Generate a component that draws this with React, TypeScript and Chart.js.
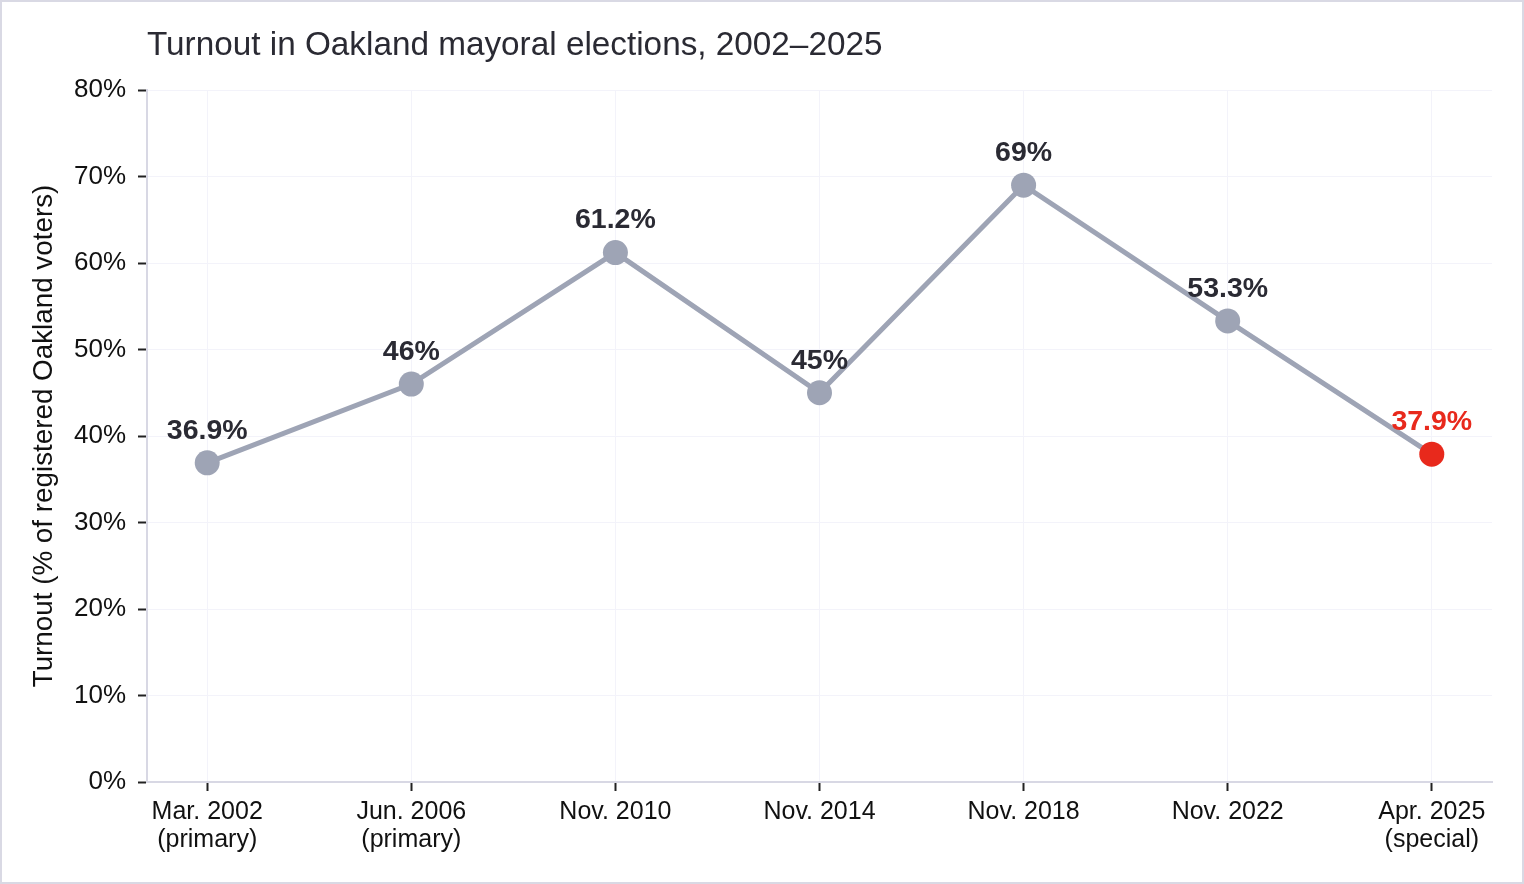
import { useEffect, useRef } from "react";
import { Chart, registerables } from "chart.js";

Chart.register(...registerables);

// Dữ liệu biểu đồ
const elections = [
  ["Mar. 2002", "(primary)"],
  ["Jun. 2006", "(primary)"],
  ["Nov. 2010"],
  ["Nov. 2014"],
  ["Nov. 2018"],
  ["Nov. 2022"],
  ["Apr. 2025", "(special)"],
];
const turnout = [36.9, 46, 61.2, 45, 69, 53.3, 37.9];
const yTicks = [0, 10, 20, 30, 40, 50, 60, 70, 80];

const TITLE = "Turnout in Oakland mayoral elections, 2002–2025";
const Y_TITLE = "Turnout (% of registered Oakland voters)";
const FONT = "'Liberation Sans', Arial, sans-serif";
const LINE_COLOR = "#9ea4b5";
const RED = "#e8291c";
const TEXT = "#2a2a33";

// Vẽ tiêu đề, tiêu đề trục y và nhãn giá trị
const overlayPlugin = {
  id: "overlay",
  afterDraw(chart: any) {
    const ctx = chart.ctx;
    const area = chart.chartArea;
    ctx.save();
    ctx.fillStyle = TEXT;
    ctx.font = `33.3px ${FONT}`;
    ctx.textAlign = "left";
    ctx.textBaseline = "middle";
    ctx.fillText(TITLE, area.left, 44);

    ctx.save();
    ctx.translate(42, (area.top + area.bottom) / 2);
    ctx.rotate(-Math.PI / 2);
    ctx.textAlign = "center";
    ctx.fillStyle = "#111";
    ctx.font = `27.8px ${FONT}`;
    ctx.fillText(Y_TITLE, 0, 0);
    ctx.restore();

    const meta = chart.getDatasetMeta(0);
    ctx.font = `bold 28.5px ${FONT}`;
    ctx.textAlign = "center";
    meta.data.forEach((pt: any, i: number) => {
      ctx.fillStyle = i === turnout.length - 1 ? RED : TEXT;
      ctx.fillText(`${turnout[i]}%`, pt.x, pt.y - 32);
    });
    ctx.restore();
  },
};

const TurnoutChart = () => {
  const chartRef = useRef<HTMLCanvasElement>(null);
  const chartInstance = useRef<Chart | null>(null);

  useEffect(() => {
    if (!chartRef.current) return;
    if (chartInstance.current) chartInstance.current.destroy();

    const ctx = chartRef.current.getContext("2d");
    if (!ctx) return;

    const pointColors = turnout.map((_, i) =>
      i === turnout.length - 1 ? RED : LINE_COLOR
    );

    chartInstance.current = new Chart(ctx, {
      type: "line",
      data: {
        datasets: [
          {
            data: turnout.map((v, i) => ({ x: i, y: v })),
            borderColor: LINE_COLOR,
            borderWidth: 5,
            pointRadius: 12.5,
            pointBorderWidth: 0,
            pointBackgroundColor: pointColors,
            pointBorderColor: pointColors,
            tension: 0,
          },
        ],
      },
      options: {
        animation: false,
        responsive: false,
        maintainAspectRatio: false,
        layout: { padding: { top: 88, right: 30, left: 0, bottom: 0 } },
        plugins: {
          legend: { display: false },
          title: { display: false },
          tooltip: { enabled: false },
        },
        scales: {
          x: {
            type: "linear",
            min: -0.295,
            max: 6.295,
            afterBuildTicks: (scale: any) => {
              scale.ticks = elections.map((_, i) => ({ value: i }));
            },
            afterFit: (scale: any) => {
              scale.height = 100;
            },
            grid: {
              color: "#f3f3fa",
              lineWidth: 1,
              tickColor: "#222",
              tickWidth: 2,
              tickLength: 9,
            },
            border: { color: "#d8d8e4", width: 2 },
            ticks: {
              autoSkip: false,
              maxRotation: 0,
              padding: 7,
              color: "#111",
              font: { family: FONT, size: 25, lineHeight: 1.12 },
              callback: (v: any) => elections[Math.round(Number(v))] ?? "",
            },
          },
          y: {
            min: 0,
            max: 80,
            afterBuildTicks: (scale: any) => {
              scale.ticks = yTicks.map((v) => ({ value: v }));
            },
            afterFit: (scale: any) => {
              scale.width = 145;
            },
            grid: {
              color: "#f3f3fa",
              lineWidth: 1,
              tickColor: "#222",
              tickWidth: 2,
              tickLength: 9,
            },
            border: { color: "#d8d8e4", width: 2 },
            ticks: {
              padding: 12,
              color: "#111",
              font: { family: FONT, size: 26 },
              callback: (v: any) => `${v}%`,
            },
          },
        },
      },
      plugins: [overlayPlugin],
    });

    return () => {
      if (chartInstance.current) {
        chartInstance.current.destroy();
        chartInstance.current = null;
      }
    };
  }, []);

  return (
    <div
      style={{
        position: "absolute",
        left: 0,
        top: 0,
        width: 1524,
        height: 884,
        boxSizing: "border-box",
        border: "2px solid #d9d9e4",
        background: "#fff",
      }}
    >
      <canvas ref={chartRef} width={1520} height={880} style={{ width: 1520, height: 880 }} />
    </div>
  );
};

export default function App() {
  return <TurnoutChart />;
}
